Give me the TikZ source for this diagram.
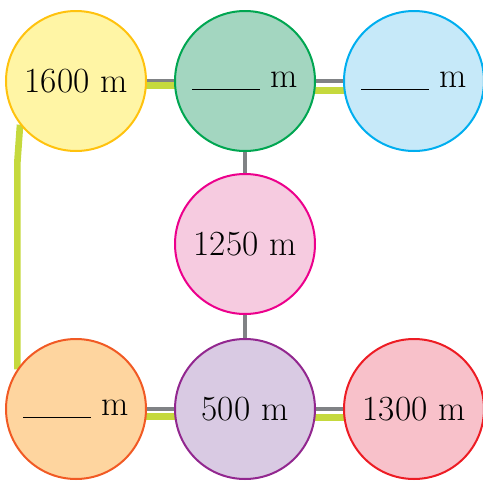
\documentclass[tikz,border=0pt]{standalone}
\usetikzlibrary{backgrounds}
\definecolor{yelfill}{HTML}{FFF5A5}
\definecolor{yelline}{HTML}{FFC20E}
\definecolor{grnfill}{HTML}{A3D6C0}
\definecolor{grnline}{HTML}{00A651}
\definecolor{blufill}{HTML}{C6E9F9}
\definecolor{bluline}{HTML}{00AEEF}
\definecolor{pnkfill}{HTML}{F6CBE0}
\definecolor{pnkline}{HTML}{EC008C}
\definecolor{orafill}{HTML}{FED59F}
\definecolor{oraline}{HTML}{F15A24}
\definecolor{purfill}{HTML}{D9CAE3}
\definecolor{purline}{HTML}{92278F}
\definecolor{redfill}{HTML}{F8C1CA}
\definecolor{redline}{HTML}{ED1C24}
\definecolor{roadgray}{HTML}{808285}
\definecolor{trailgreen}{HTML}{C5D93D}
\newcommand{\blank}{\rule[-2.5pt]{51pt}{1pt}}
\begin{document}
\begin{tikzpicture}[x=0.75pt,y=-0.75pt,
  spot/.style={circle,minimum size=105pt,inner sep=0pt,line width=1.5pt,font=\fontsize{26.5}{30}\selectfont},
  road/.style={line width=3pt,draw=roadgray},
  trail/.style={line width=5pt,draw=trailgreen,line join=round}]
\useasboundingbox (0,0) rectangle (483,482);
\node[spot,draw=yelline,fill=yelfill] (start) at (76,81) {1600 m};
\node[spot,draw=grnline,fill=grnfill] (topmid) at (245,81) {\blank{} m};
\node[spot,draw=bluline,fill=blufill] (topright) at (414,81) {\blank{} m};
\node[spot,draw=pnkline,fill=pnkfill] (centre) at (245,244) {1250 m};
\node[spot,draw=oraline,fill=orafill] (botleft) at (76,409) {\blank{} m};
\node[spot,draw=purline,fill=purfill] (botmid) at (245,409) {500 m};
\node[spot,draw=redline,fill=redfill] (botright) at (414,409) {1300 m};
\begin{scope}[on background layer]
\draw[road] (start) -- (topmid) -- (topright);
\draw[road] (botleft) -- (botmid) -- (botright);
\draw[road] (topmid) -- (centre) -- (botmid);
\draw[trail] ([yshift=-3.5pt]start.center) -- ([yshift=-3.5pt]topmid.center);
\draw[trail] ([yshift=-7pt]topmid.center) -- ([yshift=-7pt]topright.center);
\draw[trail] ([yshift=-5.5pt]botleft.center) -- ([yshift=-5.5pt]botmid.center);
\draw[trail] ([yshift=-6.5pt]botmid.center) -- ([yshift=-6.5pt]botright.center);
\coordinate (bend) at ([xshift=-2pt,yshift=-28pt]start.218);
\draw[trail] (start.218) -- (bend) -- (bend |- botleft.146);
\end{scope}
\end{tikzpicture}
\end{document}
